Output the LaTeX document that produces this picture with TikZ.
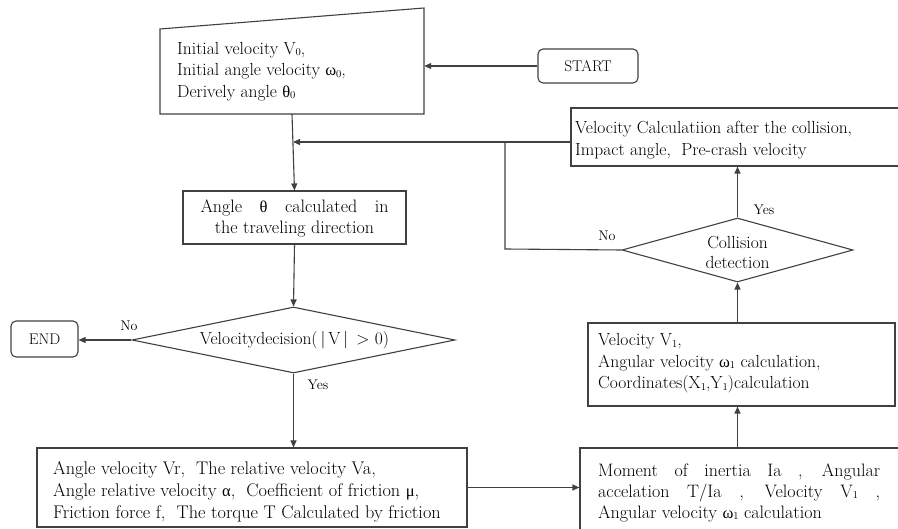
\documentclass[tikz,border=0pt]{standalone}
\usepackage{fontspec}
\newfontfamily\grk{Liberation Serif}
\usetikzlibrary{shapes.geometric,arrows.meta}
\newcommand\gk[1]{{\grk\fontsize{16.5}{16.5}\selectfont #1}}
\newcommand\sbs[1]{\raisebox{-0.2ex}{\fontsize{10.5}{10.5}\selectfont #1}}
\definecolor{ln}{HTML}{404040}
\begin{document}
\begin{tikzpicture}[x=1pt,y=-1pt,
  every node/.style={font=\fontsize{17.5}{21.5}\selectfont, text=black},
  box/.style={draw=ln, line width=1.1pt, rectangle, inner sep=0pt},
  term/.style={draw=ln, line width=1.1pt, rectangle, rounded corners=5pt, inner sep=0pt, font=\fontsize{15.5}{18}\selectfont},
  dia/.style={draw=ln, line width=1.1pt, diamond, inner sep=0pt},
  txt/.style={align=left, anchor=west, inner sep=0pt},
  lbl/.style={font=\fontsize{14}{16}\selectfont, inner sep=0pt},
  conn/.style={draw=ln, line width=1.1pt},
  arr/.style={conn, -{Triangle[length=7pt,width=6pt]}}]
\useasboundingbox (0,0) rectangle (898,529);
% manual input
\node[minimum width=264pt, minimum height=85pt, inner sep=0pt] (inp) at (292,71.5) {};
\draw[ln, line width=1.1pt] (160,29) -- (424,8) -- (424,114) -- (160,114) -- cycle;
\node[txt] (inpt) at (177,71.5) {Initial velocity V\sbs{0},\\Initial angle velocity \gk{ω}\sbs{0},\\Derively angle \gk{θ}\sbs{0}};
% start
\node[term, minimum width=100pt, minimum height=34pt] (start) at (588,66) {START};
% velocity calc after collision
\node[box, minimum width=349pt, minimum height=58pt] (vcalc) at (745.5,137) {};
\node[txt] (vcalct) at (575,140) {Velocity Calculatiion after the collision,\\Impact angle,\ \ Pre-crash velocity};
% angle box
\node[box, minimum width=223pt, minimum height=53pt] (angle) at (294.5,217.5) {};
\node[align=center, inner sep=0pt, font=\fontsize{18}{21}\selectfont] (anglet) at (294.5,218) {\makebox[188pt][s]{Angle \gk{θ} calculated in}\\the traveling direction};
% collision diamond
\node[dia, minimum width=231pt, minimum height=64pt] (coll) at (737.5,250) {};
\node[align=center, inner sep=0pt, font=\fontsize{17.5}{20}\selectfont] (collt) at (737.5,252) {Collision\\detection};
% velocity decision diamond
\node[dia, minimum width=323pt, minimum height=66pt] (dec) at (293.5,340) {};
\node[inner sep=0pt] (dect) at (294.5,340) {Velocitydecision(\,|\,V\,|\, $>$ 0)};
% end
\node[term, minimum width=67pt, minimum height=36pt] (end) at (44.5,339) {END};
% big box
\node[box, minimum width=430pt, minimum height=79pt] (big) at (252,487.5) {};
\node[txt, font=\fontsize{18.3}{22}\selectfont] (bigt) at (53,492) {Angle velocity Vr,\ \ The relative velocity Va,\\Angle relative velocity \gk{α},\ \ Coefficient of friction \gk{μ},\\Friction force f,\ \ The torque T Calculated by friction};
% moment box
\node[box, minimum width=340pt, minimum height=84pt] (mom) at (750,490) {};
\node[txt, font=\fontsize{18}{21}\selectfont] (momt) at (598,492.5) {\makebox[282pt][s]{Moment of inertia Ia , Angular}\\\makebox[282pt][s]{accelation T/Ia , Velocity V\sbs{1} ,}\\Angular velocity \gk{ω}\sbs{1} calculation};
% V1 box
\node[box, minimum width=307pt, minimum height=83pt] (v1) at (741.5,364.5) {};
\node[txt] (v1t) at (598,363.5) {Velocity V\sbs{1},\\Angular velocity \gk{ω}\sbs{1} calculation,\\Coordinates(X\sbs{1},Y\sbs{1})calculation};
% junctions
\coordinate (j1) at (293,142);
\coordinate (j2) at (505,142);
\coordinate (j3) at (505,249);
% connectors
\draw[arr] (start.west) -- (start.west -| inp.east);
\draw[arr] (inp.south) -- (angle.north);
\draw[arr] ([yshift=-5pt]vcalc.west) -- (j1);
\draw[conn] (coll.west) -- (j3) -- (j2);
\draw[arr] (coll.north) -- (coll.north |- vcalc.south);
\draw[arr] (angle.south) -- (dec.north);
\draw[arr] (dec.west) -- (dec.west -| end.east);
\draw[arr] (dec.south) -- (dec.south |- big.north);
\draw[arr] (big.east) -- (big.east -| mom.west);
\draw[arr] (coll.south |- mom.north) -- (coll.south |- v1.south);
\draw[arr] (coll.south |- v1.north) -- (coll.south);
% labels
\node[lbl] (lno1) at (129,326) {No};
\node[lbl] (lyes1) at (318,385) {Yes};
\node[lbl] (lno2) at (607,236) {No};
\node[lbl] (lyes2) at (764,210) {Yes};
\end{tikzpicture}
\end{document}
